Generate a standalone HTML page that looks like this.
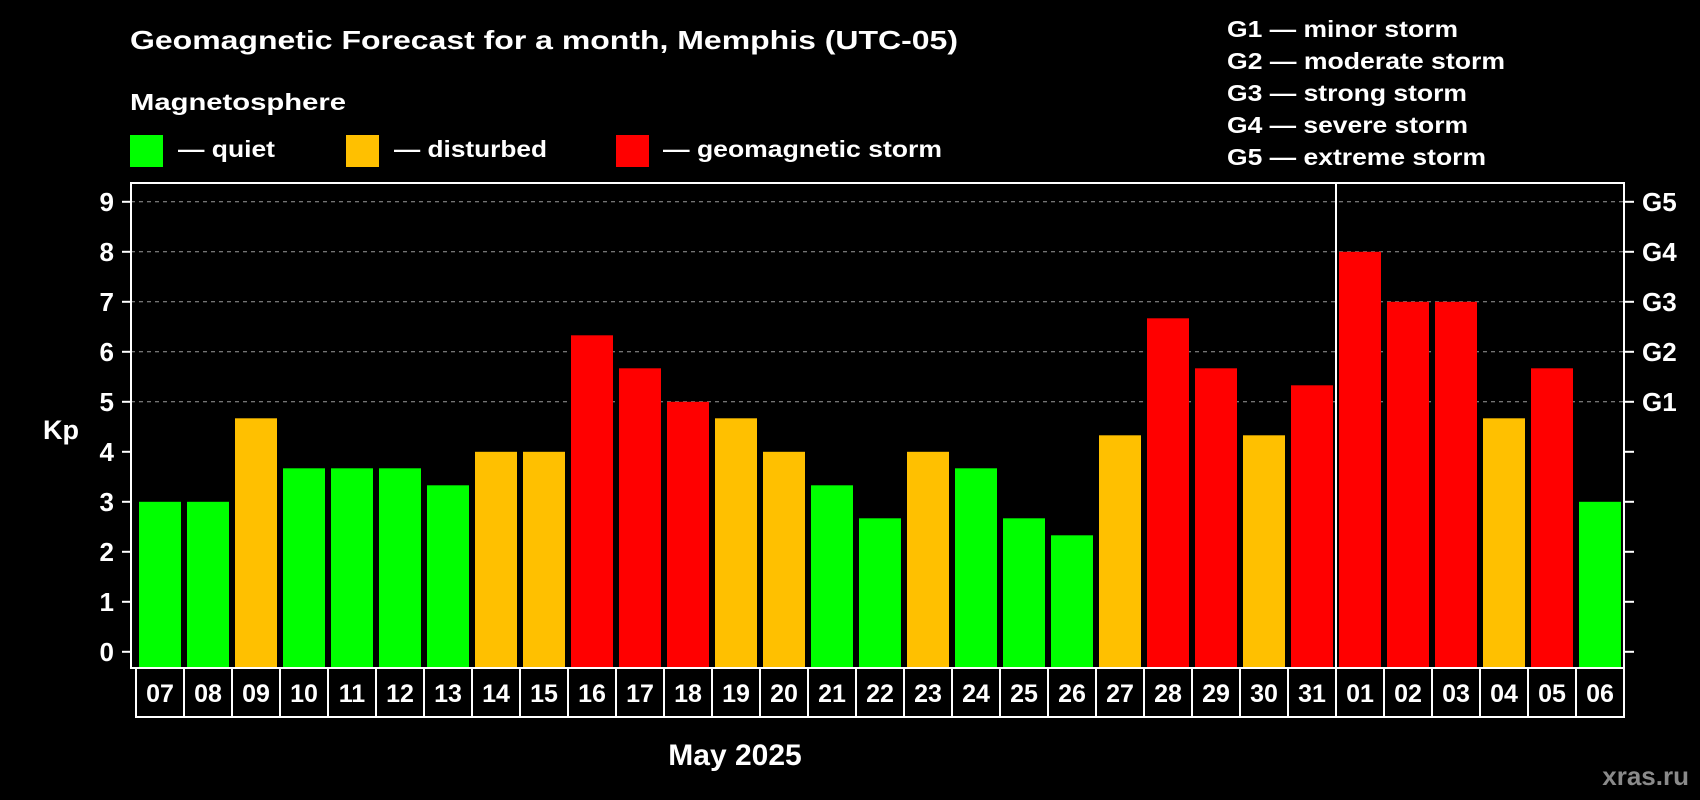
<!DOCTYPE html>
<html><head><meta charset="utf-8"><style>
html,body{margin:0;padding:0;background:#000;}
svg{display:block;font-family:"Liberation Sans",Arial,sans-serif;font-weight:bold;}
</style></head><body>
<svg width="1700" height="800" viewBox="0 0 1700 800">
<rect x="0" y="0" width="1700" height="800" fill="#000"/>
<text x="130" y="49" font-size="26" fill="#fff" textLength="828" lengthAdjust="spacingAndGlyphs">Geomagnetic Forecast for a month, Memphis (UTC-05)</text>
<text x="130" y="110" font-size="23" fill="#fff" textLength="216" lengthAdjust="spacingAndGlyphs">Magnetosphere</text>
<g>
<rect x="130" y="135" width="33" height="32" fill="#00ff00"/>
<text x="178" y="157" font-size="23" fill="#fff" textLength="97" lengthAdjust="spacingAndGlyphs">— quiet</text>
<rect x="346" y="135" width="33" height="32" fill="#ffc000"/>
<text x="394" y="157" font-size="23" fill="#fff" textLength="153" lengthAdjust="spacingAndGlyphs">— disturbed</text>
<rect x="616" y="135" width="33" height="32" fill="#ff0000"/>
<text x="663" y="157" font-size="23" fill="#fff" textLength="279" lengthAdjust="spacingAndGlyphs">— geomagnetic storm</text>
</g>
<g font-size="23" fill="#fff">
<text x="1227" y="37" textLength="231" lengthAdjust="spacingAndGlyphs">G1 — minor storm</text>
<text x="1227" y="69" textLength="278" lengthAdjust="spacingAndGlyphs">G2 — moderate storm</text>
<text x="1227" y="101" textLength="240" lengthAdjust="spacingAndGlyphs">G3 — strong storm</text>
<text x="1227" y="133" textLength="241" lengthAdjust="spacingAndGlyphs">G4 — severe storm</text>
<text x="1227" y="165" textLength="259" lengthAdjust="spacingAndGlyphs">G5 — extreme storm</text>
</g>
<text x="43" y="439" font-size="27" fill="#fff">Kp</text>
<g id="grid"></g>
<g id="bars"></g>
<g id="axes"></g>
<g id="dates"></g>
<text x="735" y="765" font-size="30" fill="#fff" text-anchor="middle">May 2025</text>
<text x="1689" y="785" font-size="26" fill="#8a8a8a" text-anchor="end">xras.ru</text>
</svg>
<script>
const days = ["07","08","09","10","11","12","13","14","15","16","17","18","19","20","21","22","23","24","25","26","27","28","29","30","31","01","02","03","04","05","06"];
const kpValues = [3,3,4.67,3.67,3.67,3.67,3.33,4,4,6.33,5.67,5,4.67,4,3.33,2.67,4,3.67,2.67,2.33,4.33,6.67,5.67,4.33,5.33,8,7,7,4.67,5.67,3];
const yTicks = [0,1,2,3,4,5,6,7,8,9];
const gLabels = ["G1","G2","G3","G4","G5"];
const gLevels = [5,6,7,8,9];
const monthBreakIndex = 25;

const NS = "http://www.w3.org/2000/svg";
const frameL = 131, frameR = 1624, frameT = 183, frameB = 668;
const y0 = 651.8, unit = 50;
const x0 = 139, step = 48, barW = 42;
function yScale(v){ return y0 - v*unit; }
function xScale(i){ return x0 + i*step; }
function mk(tag, attrs, parent){ const e=document.createElementNS(NS,tag); for(const k in attrs) e.setAttribute(k,attrs[k]); parent.appendChild(e); return e; }
function colorFor(v){ return v>=5 ? "#ff0000" : (v>=4 ? "#ffc000" : "#00ff00"); }

const grid = document.getElementById("grid");
gLevels.forEach(v=>{
  const l = mk("line",{x1:frameL,x2:frameR,y1:yScale(v),y2:yScale(v),stroke:"#9a9a9a","stroke-width":1,"stroke-dasharray":"4,4"},grid);
  
  
});

const bars = document.getElementById("bars");
kpValues.forEach((v,i)=>{
  const r = mk("rect",{x:xScale(i),y:yScale(v),width:barW,height:frameB-yScale(v),fill:colorFor(v)},bars);
  
  
});

const axes = document.getElementById("axes");
const frame = mk("rect",{x:frameL,y:frameT,width:frameR-frameL,height:frameB-frameT,fill:"none",stroke:"#fff","stroke-width":2},axes);


const bx = xScale(monthBreakIndex) - (step-barW)/2;
const div = mk("line",{x1:bx,x2:bx,y1:frameT,y2:717,stroke:"#fff","stroke-width":2},axes);


yTicks.forEach(v=>{
  const y=yScale(v);
  const t1 = mk("line",{x1:122,x2:frameL,y1:y,y2:y,stroke:"#fff","stroke-width":2},axes);
  
  
  const t2 = mk("line",{x1:frameR,x2:1634,y1:y,y2:y,stroke:"#fff","stroke-width":2},axes);
  
  
  const tx = mk("text",{x:114,y:y+9,"font-size":26,fill:"#fff","text-anchor":"end"},axes);
  tx.textContent = v;
  
  
});
gLabels.forEach((g,i)=>{
  const tx = mk("text",{x:1642,y:yScale(gLevels[i])+9,"font-size":26,fill:"#fff"},axes);
  tx.textContent = g;
  
  
});

const dates = document.getElementById("dates");
days.forEach((d,i)=>{
  const left = xScale(i) - (step-barW)/2;
  const r = mk("rect",{x:left,y:frameB,width:step,height:49,fill:"#000",stroke:"#fff","stroke-width":2},dates);
  
  
  const t = mk("text",{x:left+step/2,y:702,"font-size":25,fill:"#fff","text-anchor":"middle"},dates);
  t.textContent = d;
  
  
});
</script>
</body></html>
